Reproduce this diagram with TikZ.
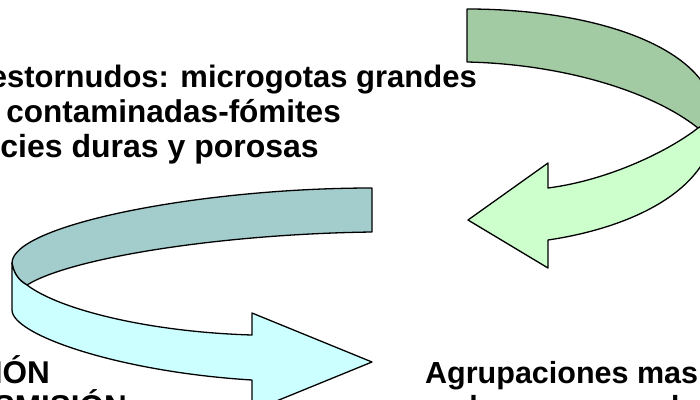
\documentclass[tikz,border=0pt]{standalone}
\usepackage{fontspec}
\setmainfont{Liberation Sans}
\definecolor{tealdark}{RGB}{163,204,204}
\definecolor{teallight}{RGB}{204,255,255}
\definecolor{greendark}{RGB}{163,203,163}
\definecolor{greenlight}{RGB}{204,255,204}
\begin{document}
\begin{tikzpicture}[x=1pt,y=-1pt,
  band/.style={draw=black,line width=1.3pt,line join=round},
  lbl/.style={inner sep=0pt,font=\fontsize{31.5}{35}\selectfont\bfseries},
  lblb/.style={inner sep=0pt,font=\fontsize{30.5}{35}\selectfont\bfseries}]
\useasboundingbox (0,0) rectangle (700,399);
\clip (0,0) rectangle (700,399);
% right (green) curved arrow
\draw[band,fill=greendark] (467,9) .. controls (600,9) and (715,50) .. (715,120)
  -- (698,128) .. controls (650,90) and (560,64) .. (467,62) -- cycle;
\draw[band,fill=greenlight] (715,120) .. controls (715,190) and (630,228) .. (548,240)
  -- (548,268) -- (468,220) -- (548,163) -- (548,188)
  .. controls (610,180) and (670,150) .. (698,128) -- cycle;
% left (teal) curved arrow
\draw[band,fill=tealdark] (372,188) .. controls (200,188) and (12,225) .. (12,263)
  .. controls (14,275) and (20,281) .. (27,285)
  .. controls (70,258) and (220,234) .. (372,232) -- cycle;
\draw[band,fill=teallight] (12,263) -- (12,310) .. controls (12,335) and (120,372) .. (252,380)
  -- (252,411) -- (372,362) -- (252,313) -- (252,335)
  .. controls (150,332) and (60,310) .. (27,285)
  .. controls (20,281) and (14,275) .. (12,263) -- cycle;
% texts
\node[lbl,font=\fontsize{31}{35}\selectfont\bfseries,anchor=base east] (t1) at (477,87) {Tos y estornudos: microgotas grandes};
\node[lbl,anchor=base east] (t2) at (341,122) {Manos contaminadas-fómites};
\node[lbl,font=\fontsize{32}{35}\selectfont\bfseries,anchor=base east] (t3) at (319,157) {Superficies duras y porosas};
\node[lbl,anchor=base east] (b1) at (50,383) {INFECCIÓN};
\node[lbl,anchor=base east] (b2) at (127,417) {TRANSMISIÓN};
\node[lblb,anchor=base west] (r1) at (425,383) {Agrupaciones masivas};
\node[lblb,anchor=base west] (r2) at (425,417) {en lugares cerrados};
\end{tikzpicture}
\end{document}
